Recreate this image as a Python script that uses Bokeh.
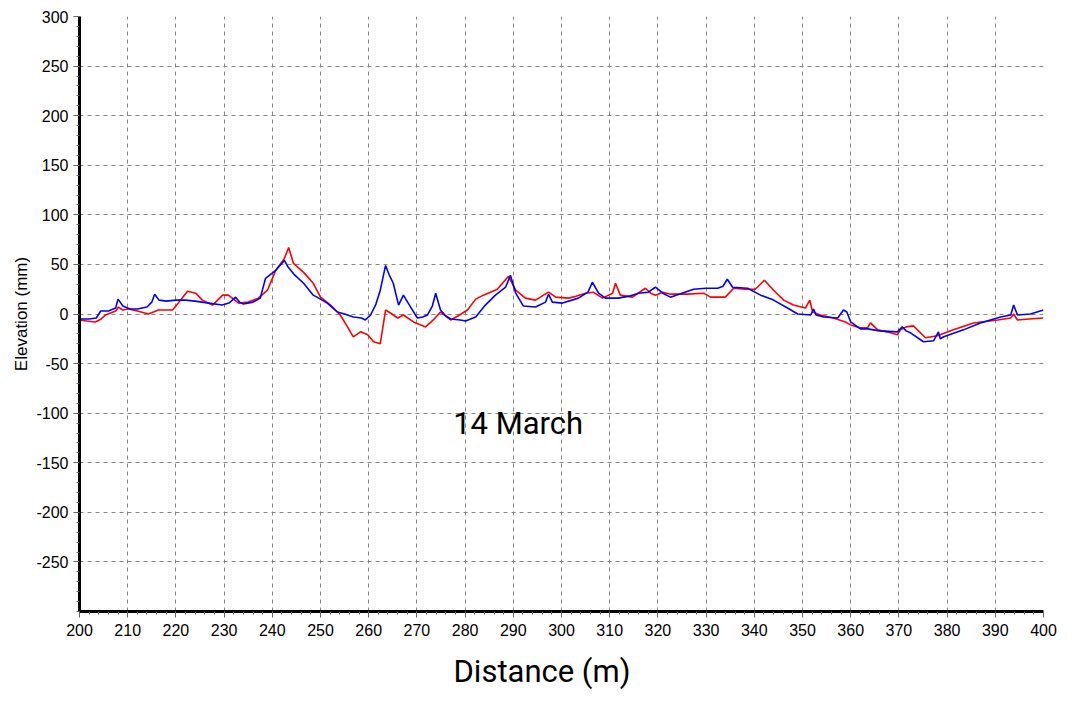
from bokeh.plotting import figure
from bokeh.models import FixedTicker, Label, Range1d, Title
from bokeh.embed import file_html
from bokeh.resources import INLINE

# ---- data ----
blue_x = [200, 202, 203.5, 204.4, 206, 207.5, 208, 209, 210.5, 212, 214, 215, 215.6, 216.5, 218,
          220, 222, 224, 226.8, 229.6, 231, 232.4, 233.2, 234, 236, 237.5, 238.6, 240.7, 242.5,
          243.2, 244.5, 246.5, 248.5, 250, 251.4, 253.5, 255, 256.8, 258.5, 259.3, 260.4, 261.5,
          262.4, 263.5, 264.2, 265.1, 266.2, 267.2, 268.7, 270.1, 271.2, 272.2, 273.2, 273.9,
          274.9, 276, 277, 279, 280.1, 282.2, 284.2, 286.3, 288.4, 289.4, 290.5, 292.1, 294.6,
          296.7, 297.3, 298.1, 300.2, 303.5, 305.5, 306.4, 307.7, 309.1, 311.8, 314, 316, 318,
          319.5, 321, 322.6, 325, 327.4, 330, 332.4, 333.5, 334.4, 335.5, 338.6, 341.3, 344,
          346.9, 349, 351.7, 352.3, 352.8, 354.4, 357.3, 358.5, 359.2, 360, 362, 363.5, 366,
          369.7, 370.7, 371.5, 372.4, 375.1, 377.2, 378.2, 378.6, 379.3, 383.4, 386.9, 391.1,
          393.2, 393.8, 394.6, 397.3, 400]
blue_y = [-5, -5, -4, 3, 3, 6, 15, 8, 5, 5, 7, 12, 20, 14, 13,
          14, 14, 13, 11, 9, 11, 17, 12, 10, 12, 16, 36, 44, 54,
          48, 40, 31, 19, 15, 11, 2, 0, -3, -4, -6, -1, 10,
          24, 49, 40, 31, 9, 19, 7, -4, -3, -1, 8, 21,
          4, -2, -5, -6, -7, -3, 9, 19, 27, 39, 21, 8, 7,
          12, 20, 12, 11, 16, 22, 32, 21, 16, 16, 18, 21, 22,
          27, 21, 17, 21, 25, 26, 26, 28, 35, 27, 26, 19, 14,
          6, 0, -1, 5, -1, -3, -4, 4, 2, -8, -15, -15, -17,
          -18, -13, -17, -19, -28, -27, -18, -25, -23, -16, -9, -3,
          -1, 9, -1, 0, 4]

red_x = [200, 201.5, 203.3, 204.5, 205.4, 207.5, 208.1, 209, 210.2, 212, 214.3, 216.4, 219.3,
         220.5, 222.4, 224.1, 225.5, 227.6, 229.7, 230.9, 233, 235, 237.1, 239, 240.7, 242.5,
         243.4, 244.4, 246.5, 248.5, 250, 252.1, 254.1, 255.6, 256.8, 258.3, 259.8, 261, 262.4,
         263.5, 264.5, 266, 267.2, 269.3, 271.8, 273.4, 274.9, 277, 278.5, 280.5, 282.2, 283.8,
         286.7, 289, 290.5, 292.5, 294.6, 297.3, 298.8, 301.5, 303, 305, 306.6, 308.5, 310.6,
         311.2, 312.2, 314.7, 317.4, 318.5, 319.5, 321, 322.6, 326, 329.5, 330.9, 334, 335.7,
         338, 340.2, 342.1, 344, 346.1, 348.1, 350.6, 351.5, 352.1, 353.7, 356.4, 358.9, 360,
         362, 363.5, 364.1, 365.6, 367.5, 369.7, 370.3, 371.5, 373, 375.5, 378, 381.3, 385.5,
         390.5, 393.2, 393.8, 394.6, 397, 400]
red_y = [-6, -7, -8, -5, -1, 3, 7, 4, 5, 3, 0, 4, 4,
         11, 23, 21, 14, 9, 19, 19, 11, 12, 16, 24, 44, 56,
         67, 51, 42, 31, 17, 9, -1, -13, -23, -18, -21, -28, -30,
         4, 1, -4, -1, -8, -13, -6, 2, -6, -2, 4, 15, 19,
         25, 38, 24, 16, 14, 22, 17, 16, 18, 21, 22, 16, 21,
         31, 19, 17, 26, 21, 19, 22, 20, 20, 21, 17, 17, 26,
         25, 25, 34, 24, 14, 9, 6, 14, 2, -1, -4, -8, -11,
         -14, -14, -9, -16, -18, -21, -16, -13, -12, -24, -22, -16, -9,
         -6, -4, 0, -6, -5, -4]

x_ticks = list(range(200, 401, 10))
x_minor = list(range(200, 401, 2))
y_ticks = list(range(-250, 301, 50))
y_minor = list(range(-300, 301, 10))

annotation_text = "14 March"
x_title = "Distance (m)"
y_title = "Elevation (mm)"

TICK_FONT = "Liberation Sans"
BIG_FONT = "Roboto"

p = figure(width=1083, height=704, output_backend="svg", toolbar_location=None,
           x_range=Range1d(200, 400), y_range=Range1d(-300, 300),
           min_border_left=79, min_border_right=40, min_border_top=16, min_border_bottom=93,
           background_fill_color="white", border_fill_color="white")
p.outline_line_color = None

# grids
for g in (p.xgrid, p.ygrid):
    g.grid_line_color = "#858585"
    g.grid_line_dash = "4 4"
    g.grid_line_width = 1
p.xgrid.ticker = FixedTicker(ticks=x_ticks)
p.ygrid.ticker = FixedTicker(ticks=y_ticks + [300])

# axes
p.xaxis.ticker = FixedTicker(ticks=x_ticks, minor_ticks=x_minor)
p.yaxis.ticker = FixedTicker(ticks=y_ticks, minor_ticks=y_minor)
p.yaxis.major_label_overrides = {t: str(t) for t in y_ticks}
p.xaxis.major_label_overrides = {t: str(t) for t in x_ticks}
for ax in (p.xaxis, p.yaxis):
    ax.axis_line_color = "black"
    ax.axis_line_width = 3
    ax.major_tick_line_color = "#666666"
    ax.minor_tick_line_color = "#666666"
    ax.major_tick_in = 0
    ax.major_tick_out = 6
    ax.minor_tick_in = 0
    ax.minor_tick_out = 3
    ax.major_label_text_font = TICK_FONT
    ax.major_label_text_font_size = "16px"
    ax.major_label_text_color = "black"
    ax.axis_label_text_color = "black"
    ax.axis_label_text_font_style = "normal"
p.xaxis.major_label_standoff = 6
p.yaxis.major_label_standoff = 5

p.yaxis.axis_label = y_title
p.yaxis.axis_label_text_font = TICK_FONT
p.yaxis.axis_label_text_font_size = "17px"
p.yaxis.axis_label_standoff = 2

# x-axis title, placed below the axis (slightly left of the frame centre as in the reference)
p.add_layout(Title(text=x_title, align="left", offset=374, standoff=24,
                   text_font=BIG_FONT, text_font_size="31px", text_font_style="normal",
                   text_color="black"), "below")

# lines
p.line(red_x, red_y, line_color="#ff0000", line_width=1.6)
p.line(blue_x, blue_y, line_color="#0000ff", line_width=1.6)

p.add_layout(Label(x=291, y=-110, text=annotation_text, text_align="center",
                   text_baseline="middle", text_font=BIG_FONT, text_font_size="31px",
                   text_color="black"))

open("out.html", "w").write(file_html(p, INLINE))
